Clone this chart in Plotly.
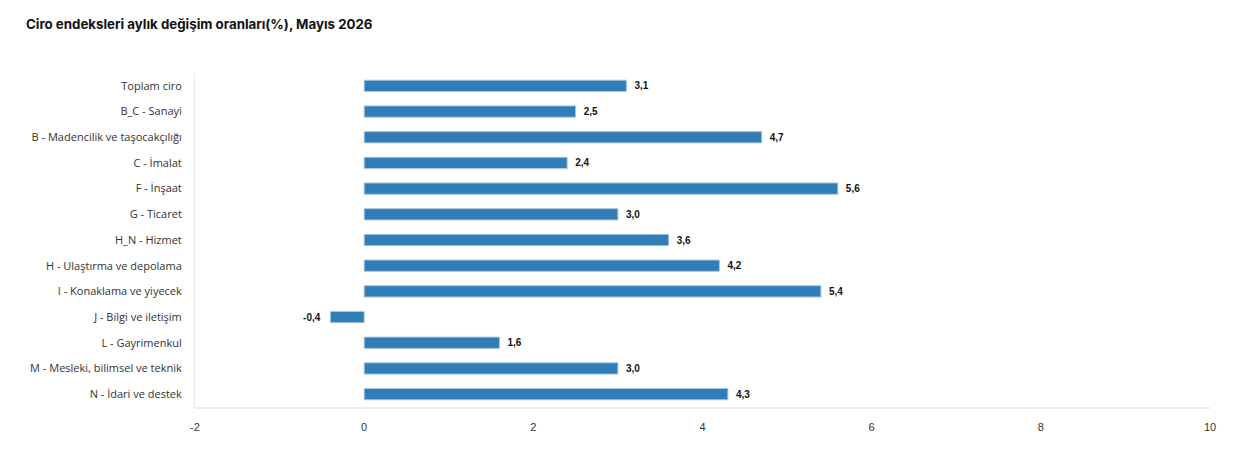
import plotly.graph_objects as go

categories = [
    "Toplam ciro",
    "B_C - Sanayi",
    "B - Madencilik ve taşocakçılığı",
    "C - İmalat",
    "F - İnşaat",
    "G - Ticaret",
    "H_N - Hizmet",
    "H - Ulaştırma ve depolama",
    "I - Konaklama ve yiyecek",
    "J - Bilgi ve iletişim",
    "L - Gayrimenkul",
    "M - Mesleki, bilimsel ve teknik",
    "N - İdari ve destek",
]
values = [3.1, 2.5, 4.7, 2.4, 5.6, 3.0, 3.6, 4.2, 5.4, -0.4, 1.6, 3.0, 4.3]
x_ticks = [-2, 0, 2, 4, 6, 8, 10]
x_tick_text = ["-2", "0", "2", "4", "6", "8", "10"]


def fmt(v):
    s = f"{v:.1f}".replace(".", ",")
    return "\u2002" + s if v >= 0 else s + "\u2002\u2009"


labels = [fmt(v) for v in values]

fig = go.Figure(
    go.Bar(
        y=categories,
        x=values,
        orientation="h",
        width=0.44,
        marker=dict(color="#317db8", line=dict(color="#a9c8e3", width=1)),
        text=labels,
        textposition="outside",
        cliponaxis=False,
        textfont=dict(family="Liberation Sans, Arial", size=10, color="#111111", weight="bold"),
        hoverinfo="skip",
    )
)

fig.update_layout(
    width=1237,
    height=451,
    margin=dict(l=195, r=27, t=73, b=44),
    paper_bgcolor="white",
    plot_bgcolor="white",
    showlegend=False,
    separators=",.",
    title=dict(
        text="Ciro endeksleri aylık değişim oranları(%), Mayıs 2026",
        x=26 / 1237,
        xanchor="left",
        y=1 - 24 / 451,
        yanchor="middle",
        font=dict(family="Inter", size=13.3, color="#111111", weight="bold"),
    ),
    xaxis=dict(
        range=[-2, 10],
        tickvals=x_ticks,
        ticktext=x_tick_text,
        showgrid=False,
        zeroline=False,
        showline=True,
        linecolor="#ececec",
        linewidth=2,
        ticks="",
        ticklabelstandoff=9,
        tickfont=dict(family="Liberation Sans Narrow, Arial", size=11, color="#333333"),
    ),
    yaxis=dict(
        autorange="reversed",
        showgrid=False,
        zeroline=False,
        showline=True,
        linecolor="#e8e8e8",
        linewidth=1,
        ticks="",
        ticklabelstandoff=10,
        tickfont=dict(family="Open Sans", size=11, color="#333333"),
    ),
)

fig.write_html("out.html")
